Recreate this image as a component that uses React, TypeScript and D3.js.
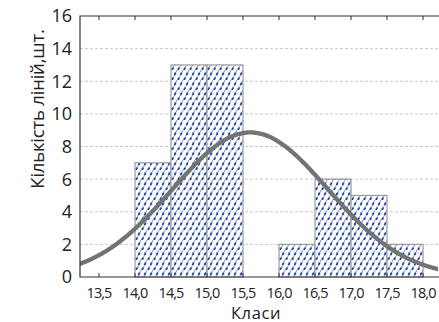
import React, { useEffect, useRef } from 'react'
import * as d3 from 'd3'

// histogram classes (lower bound of each 0.5 wide bin) and counts
const binStarts = [14.0, 14.5, 15.0, 15.5, 16.0, 16.5, 17.0, 17.5]
const counts = [7, 13, 13, 0, 2, 6, 5, 2]
const xTicks = [13.5, 14.0, 14.5, 15.0, 15.5, 16.0, 16.5, 17.0, 17.5, 18.0]
const yTicks = [0, 2, 4, 6, 8, 10, 12, 14, 16]
// fitted normal curve parameters
const fitMean = 15.6
const fitSd = 1.08
const binWidth = 0.5

export default function App() {
  const container = useRef<SVGSVGElement>(null)
  const W = 439, H = 322
  const margin = { top: 16, right: 1, bottom: 45, left: 80 }

  useEffect(() => {
    if (!container.current) return
    const svg = d3.select(container.current)
    svg.selectAll('*').remove()

    const font = "'Open Sans', 'Noto Sans', sans-serif"
    const x = d3.scaleLinear().domain([13.236, 18.208]).range([margin.left, W - margin.right])
    const y = d3.scaleLinear().domain([0, 16]).range([H - margin.bottom, margin.top])
    const n = d3.sum(counts)

    // hatch pattern for bars: thin diagonal line with dark dashes on it
    const defs = svg.append('defs')
    const pat = defs.append('pattern')
      .attr('id', 'hatch')
      .attr('patternUnits', 'userSpaceOnUse')
      .attr('width', 6).attr('height', 10)
    pat.append('rect').attr('width', 6).attr('height', 10).attr('fill', '#fff')
    pat.append('path')
      .attr('d', 'M-2,10 L3,0 M4,10 L9,0')
      .attr('stroke', '#5a74b8')
      .attr('stroke-width', 0.8)
    pat.append('path')
      .attr('d', 'M-2,10 L3,0 M4,10 L9,0')
      .attr('stroke', '#2247a3')
      .attr('stroke-width', 1.9)
      .attr('stroke-dasharray', '2.6,3')
    defs.append('clipPath').attr('id', 'plot')
      .append('rect')
      .attr('x', margin.left).attr('y', margin.top)
      .attr('width', W - margin.right - margin.left)
      .attr('height', H - margin.bottom - margin.top)

    // gridlines
    svg.append('g').selectAll('line')
      .data(yTicks.filter(d => d > 0 && d < 16))
      .join('line')
      .attr('x1', margin.left).attr('x2', W)
      .attr('y1', d => y(d)).attr('y2', d => y(d))
      .attr('stroke', '#c8c8c8')
      .attr('stroke-dasharray', '3,2')

    // bars
    svg.append('g').selectAll('rect')
      .data(binStarts.map((b, i) => ({ b, c: counts[i] })).filter(d => d.c > 0))
      .join('rect')
      .attr('x', d => x(d.b))
      .attr('y', d => y(d.c))
      .attr('width', d => x(d.b + binWidth) - x(d.b))
      .attr('height', d => y(0) - y(d.c))
      .attr('fill', 'url(#hatch)')
      .attr('stroke', '#9a9a9a')
      .attr('stroke-width', 1.2)

    // normal curve
    const curveX = d3.range(13.2, 18.25, 0.02)
    const pdf = (v: number) => Math.exp(-0.5 * ((v - fitMean) / fitSd) ** 2) / (fitSd * Math.sqrt(2 * Math.PI))
    const line = d3.line<number>()
      .x(d => x(d))
      .y(d => y(n * binWidth * pdf(d)))
      .curve(d3.curveBasis)
    svg.append('path')
      .datum(curveX)
      .attr('clip-path', 'url(#plot)')
      .attr('d', line)
      .attr('fill', 'none')
      .attr('stroke', '#737373')
      .attr('stroke-width', 4.3)

    // frame: left, bottom, top
    const x0 = margin.left, x1 = W, y0 = y(0), y1 = y(16)
    svg.append('path')
      .attr('d', `M${x1},${y1} L${x0},${y1} L${x0},${y0} L${x1},${y0}`)
      .attr('fill', 'none')
      .attr('stroke', '#333')
      .attr('stroke-width', 1.2)

    // x ticks inside on bottom and top
    const tg = svg.append('g')
    tg.selectAll('line.b').data(xTicks).join('line')
      .attr('class', 'b')
      .attr('x1', d => x(d)).attr('x2', d => x(d))
      .attr('y1', y0).attr('y2', y0 - 4)
      .attr('stroke', '#333')
    tg.selectAll('line.t').data(xTicks).join('line')
      .attr('class', 't')
      .attr('x1', d => x(d)).attr('x2', d => x(d))
      .attr('y1', y1).attr('y2', y1 + 4)
      .attr('stroke', '#333')

    // x tick labels
    svg.append('g').selectAll('text')
      .data(xTicks)
      .join('text')
      .attr('x', d => x(d))
      .attr('y', 298)
      .attr('text-anchor', 'middle')
      .attr('font-family', font)
      .attr('font-size', 14.5)
      .attr('letter-spacing', -0.9)
      .attr('fill', '#222')
      .text(d => d3.format('.1f')(d).replace('.', ','))

    // y tick labels
    svg.append('g').selectAll('text')
      .data(yTicks)
      .join('text')
      .attr('x', 72)
      .attr('y', d => y(d))
      .attr('dy', '0.36em')
      .attr('text-anchor', 'end')
      .attr('font-family', font)
      .attr('font-size', 18)
      .attr('fill', '#222')
      .text(d => d)

    // axis titles
    svg.append('text')
      .attr('transform', `translate(44,109) rotate(-90)`)
      .attr('text-anchor', 'middle')
      .attr('font-family', font)
      .attr('font-size', 18.5)
      .attr('letter-spacing', -0.2)
      .attr('fill', '#222')
      .text('Кількість ліній,шт.')
    svg.append('text')
      .attr('x', 256)
      .attr('y', 318.5)
      .attr('text-anchor', 'middle')
      .attr('font-family', font)
      .attr('font-size', 16.5)
      .attr('letter-spacing', 0.6)
      .attr('fill', '#222')
      .text('Класи')
  }, [])

  return (
    <svg ref={container} width={W} height={H}
      style={{ position: 'absolute', left: 0, top: 0, background: '#fff' }} />
  )
}
